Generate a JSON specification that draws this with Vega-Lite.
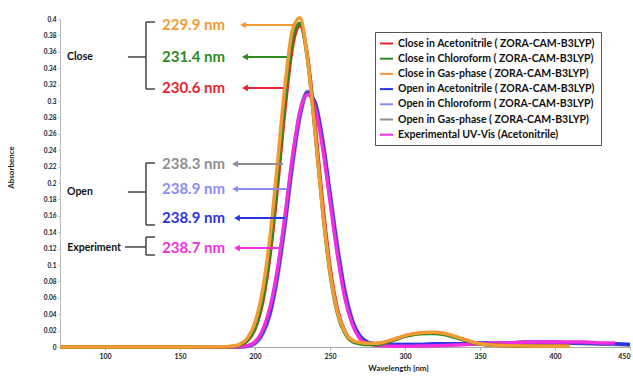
{
  "$schema": "https://vega.github.io/schema/vega-lite/v6.json",
  "width": 570,
  "height": 328,
  "autosize": {"type": "none"},
  "padding": {"left": 60, "top": 19, "right": 3, "bottom": 29},
  "background": "white",
  "config": {
    "font": "Lato",
    "view": {"stroke": null},
    "axisX": {"labelFontSize": 7, "labelFontWeight": "bold", "labelColor": "#222", "domainColor": "#aaa", "tickColor": "#aaa", "tickSize": 3, "labelPadding": 2, "grid": false, "titleFontSize": 8, "titleFontWeight": "bold", "titleColor": "#222", "titleX": 338, "titleY": 21, "titleBaseline": "middle"},
    "axisY": {"labelFontSize": 6.5, "labelFontWeight": "bold", "labelColor": "#222", "domainColor": "#bbb", "tickColor": "#bbb", "tickSize": 2, "labelPadding": 2, "labelOverlap": false, "labelSeparation": 0, "grid": false, "titleFontSize": 8, "titleFontWeight": "bold", "titleColor": "#222", "titleX": -45, "titleY": 148, "titleAngle": -90}
  },
  "datasets": {
    "names": [
      {"s": "ca", "name": "Close in Acetonitrile ( ZORA-CAM-B3LYP)"},
      {"s": "cc", "name": "Close in Chloroform ( ZORA-CAM-B3LYP)"},
      {"s": "cg", "name": "Close in Gas-phase ( ZORA-CAM-B3LYP)"},
      {"s": "oa", "name": "Open in Acetonitrile ( ZORA-CAM-B3LYP)"},
      {"s": "oc", "name": "Open in Chloroform  ( ZORA-CAM-B3LYP)"},
      {"s": "og", "name": "Open in Gas-phase  ( ZORA-CAM-B3LYP)"},
      {"s": "ex", "name": "Experimental UV-Vis (Acetonitrile)"}
    ],
    "curves": [
      {"x": 70, "cg": 0, "cc": 0, "ca": 0, "oa": 0, "oc": 0, "og": 0, "ex": 0},
      {"x": 100, "cg": 0, "cc": 0, "ca": 0, "oa": 0, "oc": 0, "og": 0, "ex": 0},
      {"x": 150, "cg": 0, "cc": 0, "ca": 0, "oa": 0, "oc": 0, "og": 0, "ex": 0},
      {"x": 180, "cg": 0.0003, "cc": 0.0002, "ca": 0.0002, "oa": 0, "oc": 0, "og": 0, "ex": 0},
      {"x": 185, "cg": 0.0009, "cc": 0.0006, "ca": 0.0006, "oa": 0, "oc": 0, "og": 0, "ex": 0},
      {"x": 190, "cg": 0.0035, "cc": 0.0024, "ca": 0.0023, "oa": 0.0003, "oc": 0.0002, "og": 0.0004, "ex": 0.0003},
      {"x": 195, "cg": 0.0111, "cc": 0.0082, "ca": 0.0077, "oa": 0.001, "oc": 0.001, "og": 0.0015, "ex": 0.0015},
      {"x": 200, "cg": 0.0299, "cc": 0.0235, "ca": 0.0221, "oa": 0.005, "oc": 0.004, "og": 0.006, "ex": 0.006},
      {"x": 205, "cg": 0.0687, "cc": 0.0572, "ca": 0.0539, "oa": 0.017, "oc": 0.015, "og": 0.019, "ex": 0.02},
      {"x": 210, "cg": 0.1345, "cc": 0.1178, "ca": 0.1116, "oa": 0.042, "oc": 0.039, "og": 0.046, "ex": 0.048},
      {"x": 215, "cg": 0.2244, "cc": 0.205, "ca": 0.1957, "oa": 0.088, "oc": 0.084, "og": 0.093, "ex": 0.095},
      {"x": 220, "cg": 0.319, "cc": 0.3017, "ca": 0.2909, "oa": 0.152, "oc": 0.147, "og": 0.158, "ex": 0.16},
      {"x": 225, "cg": 0.3866, "cc": 0.3753, "ca": 0.3666, "oa": 0.225, "oc": 0.22, "og": 0.231, "ex": 0.232},
      {"x": 230, "cg": 0.4015, "cc": 0.3947, "ca": 0.3917, "oa": 0.283, "oc": 0.28, "og": 0.288, "ex": 0.287},
      {"x": 235, "cg": 0.3512, "cc": 0.3509, "ca": 0.3547, "oa": 0.31, "oc": 0.308, "og": 0.312, "ex": 0.308},
      {"x": 240, "cg": 0.2633, "cc": 0.2637, "ca": 0.2723, "oa": 0.298, "oc": 0.299, "og": 0.296, "ex": 0.292},
      {"x": 245, "cg": 0.1682, "cc": 0.1676, "ca": 0.1772, "oa": 0.252, "oc": 0.255, "og": 0.247, "ex": 0.244},
      {"x": 250, "cg": 0.0916, "cc": 0.09, "ca": 0.0978, "oa": 0.186, "oc": 0.19, "og": 0.18, "ex": 0.178},
      {"x": 255, "cg": 0.0425, "cc": 0.0409, "ca": 0.0457, "oa": 0.12, "oc": 0.124, "og": 0.114, "ex": 0.112},
      {"x": 260, "cg": 0.018, "cc": 0.0165, "ca": 0.019, "oa": 0.066, "oc": 0.069, "og": 0.062, "ex": 0.059},
      {"x": 265, "cg": 0.008, "cc": 0.0065, "ca": 0.0075, "oa": 0.031, "oc": 0.033, "og": 0.029, "ex": 0.027},
      {"x": 270, "cg": 0.0055, "cc": 0.004, "ca": 0.0045, "oa": 0.013, "oc": 0.014, "og": 0.012, "ex": 0.01},
      {"x": 275, "cg": 0.0045, "cc": 0.003, "ca": 0.004, "oa": 0.006, "oc": 0.006, "og": 0.005, "ex": 0.004},
      {"x": 280, "cg": 0.0045, "cc": 0.003, "ca": 0.004, "oa": 0.004, "oc": 0.004, "og": 0.003, "ex": 0.002},
      {"x": 285, "cg": 0.0055, "cc": 0.004, "ca": 0.005, "oa": 0.003, "oc": 0.003, "og": 0.0025, "ex": 0.0015},
      {"x": 290, "cg": 0.008, "cc": 0.007, "ca": 0.0075, "oa": 0.003, "oc": 0.003, "og": 0.0025, "ex": 0.001},
      {"x": 295, "cg": 0.011, "cc": 0.01, "ca": 0.0105, "oa": 0.003, "oc": 0.003, "og": 0.0025, "ex": 0.001},
      {"x": 300, "cg": 0.014, "cc": 0.013, "ca": 0.0135, "oa": 0.003, "oc": 0.003, "og": 0.0025, "ex": 0.001},
      {"x": 305, "cg": 0.016, "cc": 0.015, "ca": 0.0155, "oa": 0.003, "oc": 0.003, "og": 0.0025, "ex": 0.001},
      {"x": 310, "cg": 0.0175, "cc": 0.016, "ca": 0.017, "oa": 0.003, "oc": 0.003, "og": 0.0025, "ex": 0.0012},
      {"x": 315, "cg": 0.018, "cc": 0.0165, "ca": 0.0175, "oa": 0.0035, "oc": 0.003, "og": 0.003, "ex": 0.0013},
      {"x": 320, "cg": 0.018, "cc": 0.0165, "ca": 0.0175, "oa": 0.004, "oc": 0.0035, "og": 0.003, "ex": 0.0015},
      {"x": 325, "cg": 0.017, "cc": 0.0155, "ca": 0.0165, "oa": 0.004, "oc": 0.0035, "og": 0.003, "ex": 0.0017},
      {"x": 330, "cg": 0.015, "cc": 0.0135, "ca": 0.0145, "oa": 0.004, "oc": 0.0035, "og": 0.003, "ex": 0.002},
      {"x": 335, "cg": 0.012, "cc": 0.011, "ca": 0.0115, "oa": 0.004, "oc": 0.004, "og": 0.0035, "ex": 0.0025},
      {"x": 340, "cg": 0.009, "cc": 0.008, "ca": 0.0085, "oa": 0.004, "oc": 0.004, "og": 0.0035, "ex": 0.003},
      {"x": 345, "cg": 0.006, "cc": 0.0055, "ca": 0.006, "oa": 0.0045, "oc": 0.004, "og": 0.004, "ex": 0.0035},
      {"x": 350, "cg": 0.004, "cc": 0.0035, "ca": 0.004, "oa": 0.005, "oc": 0.0045, "og": 0.004, "ex": 0.004},
      {"x": 360, "cg": 0.002, "cc": 0.002, "ca": 0.002, "oa": 0.005, "oc": 0.0045, "og": 0.004, "ex": 0.005},
      {"x": 370, "cg": 0.0015, "cc": 0.0015, "ca": 0.0015, "oa": 0.005, "oc": 0.005, "og": 0.0045, "ex": 0.005},
      {"x": 380, "cg": 0.0012, "cc": 0.0012, "ca": 0.0012, "oa": 0.006, "oc": 0.005, "og": 0.0045, "ex": 0.006},
      {"x": 390, "cg": 0.001, "cc": 0.001, "ca": 0.001, "oa": 0.006, "oc": 0.0055, "og": 0.005, "ex": 0.006},
      {"x": 400, "cg": 0.001, "cc": 0.001, "ca": 0.001, "oa": 0.006, "oc": 0.0055, "og": 0.005, "ex": 0.006},
      {"x": 410, "cg": 0.001, "ca": 0.001, "oa": 0.005, "oc": 0.005, "og": 0.0045, "ex": 0.006},
      {"x": 420, "oa": 0.005, "oc": 0.0045, "og": 0.004, "ex": 0.006},
      {"x": 430, "oa": 0.004, "oc": 0.004, "og": 0.0035, "ex": 0.005},
      {"x": 440, "oa": 0.004, "oc": 0.0035, "og": 0.003, "ex": 0.005},
      {"x": 450, "oa": 0.003, "oc": 0.003, "og": 0.0025}
    ],
    "notes": [
      {"x": 138, "y": 0.3927, "t": "229.9 nm", "s": "cg"},
      {"x": 138, "y": 0.3537, "t": "231.4 nm", "s": "cc"},
      {"x": 138, "y": 0.3159, "t": "230.6 nm", "s": "ca"},
      {"x": 138, "y": 0.2232, "t": "238.3 nm", "s": "og"},
      {"x": 138, "y": 0.1927, "t": "238.9 nm", "s": "oc"},
      {"x": 138, "y": 0.1573, "t": "238.9 nm", "s": "oa"},
      {"x": 138, "y": 0.1207, "t": "238.7 nm", "s": "ex"}
    ],
    "arrows": [
      {"s": "cg", "x": 226.7, "x2": 192, "y": 0.3927},
      {"s": "cc", "x": 221.3, "x2": 193.3, "y": 0.3537},
      {"s": "ca", "x": 218.7, "x2": 193.3, "y": 0.3159},
      {"s": "og", "x": 218.7, "x2": 186.7, "y": 0.2232},
      {"s": "oc", "x": 221.3, "x2": 186.7, "y": 0.1927},
      {"s": "oa", "x": 220, "x2": 188, "y": 0.1573},
      {"s": "ex", "x": 216.7, "x2": 188, "y": 0.1207}
    ],
    "groups": [
      {"x": 83.3, "y": 0.3537, "t": "Close"},
      {"x": 83.3, "y": 0.189, "t": "Open"},
      {"x": 92.7, "y": 0.1207, "t": "Experiment"}
    ],
    "brackets": [
      {"x": 127.3, "x2": 127.3, "y": 0.3963, "y2": 0.3146},
      {"x": 127.3, "x2": 133.3, "y": 0.3963, "y2": 0.3963},
      {"x": 127.3, "x2": 133.3, "y": 0.3146, "y2": 0.3146},
      {"x": 115.3, "x2": 127.3, "y": 0.3537, "y2": 0.3537},
      {"x": 127.3, "x2": 127.3, "y": 0.2244, "y2": 0.1488},
      {"x": 127.3, "x2": 133.3, "y": 0.2244, "y2": 0.2244},
      {"x": 127.3, "x2": 133.3, "y": 0.1488, "y2": 0.1488},
      {"x": 115.3, "x2": 127.3, "y": 0.189, "y2": 0.189},
      {"x": 127.3, "x2": 127.3, "y": 0.1341, "y2": 0.1122},
      {"x": 127.3, "x2": 133.3, "y": 0.1341, "y2": 0.1341},
      {"x": 127.3, "x2": 133.3, "y": 0.1122, "y2": 0.1122},
      {"x": 113.3, "x2": 127.3, "y": 0.122, "y2": 0.122}
    ]
  },
  "encoding": {
    "x": {"field": "x", "type": "quantitative", "title": "Wavelength [nm]", "scale": {"domain": [70, 450], "nice": false, "zero": false}, "axis": {"values": [100, 150, 200, 250, 300, 350, 400, 450]}},
    "y": {"field": "y", "type": "quantitative", "title": "Absorbence", "scale": {"domain": [0, 0.4], "nice": false}, "axis": {"values": [0, 0.02, 0.04, 0.06, 0.08, 0.1, 0.12, 0.14, 0.16, 0.18, 0.2, 0.22, 0.24, 0.26, 0.28, 0.3, 0.32, 0.34, 0.36, 0.38, 0.4], "format": "~g", "labelOverlap": false, "labelSeparation": 0}}
  },
  "layer": [
    {
      "data": {"name": "curves"},
      "transform": [
        {"fold": ["oc", "og", "oa", "ex", "ca", "cc", "cg"], "as": ["s", "y"]},
        {"filter": "isValid(datum.y)"},
        {"lookup": "s", "from": {"data": {"name": "names"}, "key": "s", "fields": ["name"]}}
      ],
      "mark": {"type": "line", "strokeWidth": 3.5, "interpolate": "monotone"},
      "encoding": {
        "color": {
          "field": "name", "type": "nominal",
          "scale": {
            "domain": ["Close in Acetonitrile ( ZORA-CAM-B3LYP)", "Close in Chloroform ( ZORA-CAM-B3LYP)", "Close in Gas-phase ( ZORA-CAM-B3LYP)", "Open in Acetonitrile ( ZORA-CAM-B3LYP)", "Open in Chloroform  ( ZORA-CAM-B3LYP)", "Open in Gas-phase  ( ZORA-CAM-B3LYP)", "Experimental UV-Vis (Acetonitrile)"],
            "range": ["#e8232f", "#2f8a1f", "#f29a33", "#2b35e6", "#8a8cf2", "#8e8e8e", "#f22ee0"]
          },
          "legend": {"title": null, "orient": "none", "legendX": 315, "legendY": 13, "direction": "vertical", "padding": 4, "strokeColor": "#555", "fillColor": "white", "labelFont": "Lato", "labelFontSize": 10.5, "labelFontWeight": "bold", "labelColor": "#111", "symbolType": "stroke", "symbolSize": 169, "symbolStrokeWidth": 2, "rowPadding": 2.2, "labelOffset": 4, "labelLimit": 300}
        }
      }
    },
    {
      "data": {"name": "brackets"},
      "mark": {"type": "rule", "strokeWidth": 1.5, "color": "#444"},
      "encoding": {
        "x2": {"field": "x2"},
        "y2": {"field": "y2"}
      }
    },
    {
      "data": {"name": "groups"},
      "mark": {"type": "text", "fontSize": 10.5, "fontWeight": "bold", "color": "#111", "align": "center", "baseline": "middle"},
      "encoding": {
        "text": {"field": "t"}
      }
    },
    {
      "data": {"name": "arrows"},
      "transform": [{"lookup": "s", "from": {"data": {"name": "names"}, "key": "s", "fields": ["name"]}}],
      "mark": {"type": "rule", "strokeWidth": 2},
      "encoding": {
        "x2": {"field": "x2"},
        "color": {"field": "name", "type": "nominal", "legend": null}
      }
    },
    {
      "data": {"name": "arrows"},
      "transform": [{"lookup": "s", "from": {"data": {"name": "names"}, "key": "s", "fields": ["name"]}}],
      "mark": {"type": "point", "shape": "triangle-left", "filled": true, "size": 45, "opacity": 1},
      "encoding": {
        "x": {"field": "x2", "type": "quantitative", "title": "Wavelength [nm]", "axis": {"values": [100, 150, 200, 250, 300, 350, 400, 450]}},
        "color": {"field": "name", "type": "nominal", "legend": null}
      }
    },
    {
      "data": {"name": "notes"},
      "transform": [{"lookup": "s", "from": {"data": {"name": "names"}, "key": "s", "fields": ["name"]}}],
      "mark": {"type": "text", "fontSize": 15, "fontWeight": "bold", "align": "left", "baseline": "middle"},
      "encoding": {
        "text": {"field": "t"},
        "color": {"field": "name", "type": "nominal", "legend": null}
      }
    }
  ]
}
